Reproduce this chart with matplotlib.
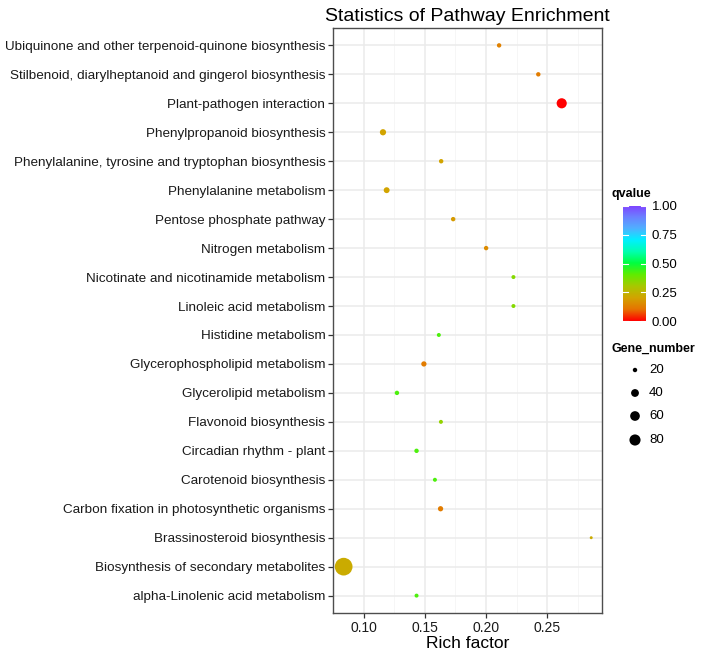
import numpy as np
import matplotlib
matplotlib.use("Agg")
import matplotlib.pyplot as plt
from matplotlib.colors import LinearSegmentedColormap, Normalize

plt.rcParams["font.family"] = ["Liberation Sans", "DejaVu Sans"]

# pathways, top to bottom as drawn
pathways = [
    "Ubiquinone and other terpenoid-quinone biosynthesis",
    "Stilbenoid, diarylheptanoid and gingerol biosynthesis",
    "Plant-pathogen interaction",
    "Phenylpropanoid biosynthesis",
    "Phenylalanine, tyrosine and tryptophan biosynthesis",
    "Phenylalanine metabolism",
    "Pentose phosphate pathway",
    "Nitrogen metabolism",
    "Nicotinate and nicotinamide metabolism",
    "Linoleic acid metabolism",
    "Histidine metabolism",
    "Glycerophospholipid metabolism",
    "Glycerolipid metabolism",
    "Flavonoid biosynthesis",
    "Circadian rhythm - plant",
    "Carotenoid biosynthesis",
    "Carbon fixation in photosynthetic organisms",
    "Brassinosteroid biosynthesis",
    "Biosynthesis of secondary metabolites",
    "alpha-Linolenic acid metabolism",
]
rich_factor = [0.2106, 0.2426, 0.2617, 0.1158, 0.1633, 0.1188, 0.1731, 0.2000,
               0.2223, 0.2223, 0.1614, 0.1492, 0.1272, 0.1631, 0.1432, 0.1582,
               0.1628, 0.2858, 0.0837, 0.1432]
qvalue = [0.13, 0.12, 0.0, 0.2, 0.2, 0.2, 0.18, 0.15,
          0.35, 0.35, 0.42, 0.12, 0.42, 0.33, 0.42, 0.42,
          0.12, 0.22, 0.22, 0.42]
gene_number = [20, 20, 66, 28, 20, 26, 20, 20,
               19, 19, 19, 23, 20, 19, 20, 19,
               23, 18, 220, 19]
size_breaks = [20, 40, 60, 80]
q_ticks = [0.0, 0.25, 0.5, 0.75, 1.0]

W, H = 713, 654
fig = plt.figure(figsize=(W / 100, H / 100), dpi=100)


def px_box(x0, y0, x1, y1):
    # pixel box (top-left origin) -> figure fraction
    return [x0 / W, 1 - y1 / H, (x1 - x0) / W, (y1 - y0) / H]


cmap = LinearSegmentedColormap.from_list("q", [
    (0.0, "#FF0000"), (0.1, "#E67300"), (0.2, "#D2A400"), (0.3, "#A8C800"),
    (0.4, "#60EC00"), (0.5, "#00FF40"), (0.6, "#00FFB0"), (0.7, "#00F0FF"),
    (0.8, "#50B0FF"), (0.9, "#6C80FF"), (1.0, "#8040FF")])
norm = Normalize(0, 1)

gmin, gmax = min(gene_number), max(gene_number)


def marker_area(g):
    # ggplot-like area scale: size 1..6 mm-ish, ~2.95 px per unit
    frac = np.clip((np.asarray(g, float) - gmin) / (gmax - gmin), 0, 1)
    d_px = 2.95 * (1 + 5 * np.sqrt(frac))
    return (d_px * 0.72) ** 2


ax = fig.add_axes(px_box(333, 28, 602, 613))
n = len(pathways)
ypos = np.arange(n)[::-1]
ax.scatter(rich_factor, ypos, s=marker_area(gene_number), c=qvalue, cmap=cmap,
           norm=norm, linewidths=0, zorder=3)

ax.set_xlim(0.0753, 0.2946)
ax.set_ylim(-0.6, n - 0.4)
ax.set_yticks(ypos)
ax.set_yticklabels(pathways, fontsize=9.7, color="#1a1a1a")
ax.set_xticks([0.10, 0.15, 0.20, 0.25])
ax.set_xticklabels(["0.10", "0.15", "0.20", "0.25"], fontsize=10, color="#1a1a1a")
ax.set_xticks([0.075, 0.125, 0.175, 0.225, 0.275], minor=True)
ax.grid(which="major", color="#EBEBEB", linewidth=1.1, zorder=0)
ax.grid(which="minor", axis="x", color="#F5F5F5", linewidth=0.6, zorder=0)
ax.set_axisbelow(True)
ax.tick_params(which="major", length=3.5, width=0.9, color="#333333", pad=2)
ax.tick_params(which="minor", length=0)
for sp in ax.spines.values():
    sp.set_color("#4d4d4d")
    sp.set_linewidth(1.0)
ax.set_xlabel("Rich factor", fontsize=12.5, labelpad=1)
ax.set_title("Statistics of Pathway Enrichment", fontsize=14, pad=5)

# colour bar legend
cax = fig.add_axes(px_box(623, 206, 646, 321))
grad = np.linspace(0, 1, 256).reshape(-1, 1)
cax.imshow(grad, aspect="auto", cmap=cmap, norm=norm, origin="lower",
           extent=[0, 1, 0, 1])
cax.set_xlim(0, 1)
cax.set_ylim(0, 1)
for t in q_ticks:
    cax.plot([0, 0.2], [t, t], color="white", lw=0.8)
    cax.plot([0.8, 1], [t, t], color="white", lw=0.8)
cax.set_xticks([])
cax.set_yticks(q_ticks)
cax.set_yticklabels([f"{t:.2f}" for t in q_ticks], fontsize=9.5)
cax.yaxis.tick_right()
cax.tick_params(axis="y", length=0, pad=4)
for sp in cax.spines.values():
    sp.set_visible(False)
fig.text(612 / W, 1 - 194 / H, "qvalue", fontsize=9, fontweight="bold",
         va="center", ha="left")

# size legend
fig.text(612 / W, 1 - 349 / H, "Gene_number", fontsize=9, fontweight="bold",
         va="center", ha="left")
lax = fig.add_axes(px_box(612, 358, 700, 452))
lax.set_xlim(0, 88)
lax.set_ylim(452, 358)
lax.axis("off")
ly = [370, 393, 416, 440]
lax.scatter([23] * len(size_breaks), ly, s=marker_area(size_breaks), color="black",
            linewidths=0)
for g, yy in zip(size_breaks, ly):
    lax.text(37, yy, str(g), fontsize=9.5, va="center", ha="left")

fig.savefig("out.png", dpi=100)
